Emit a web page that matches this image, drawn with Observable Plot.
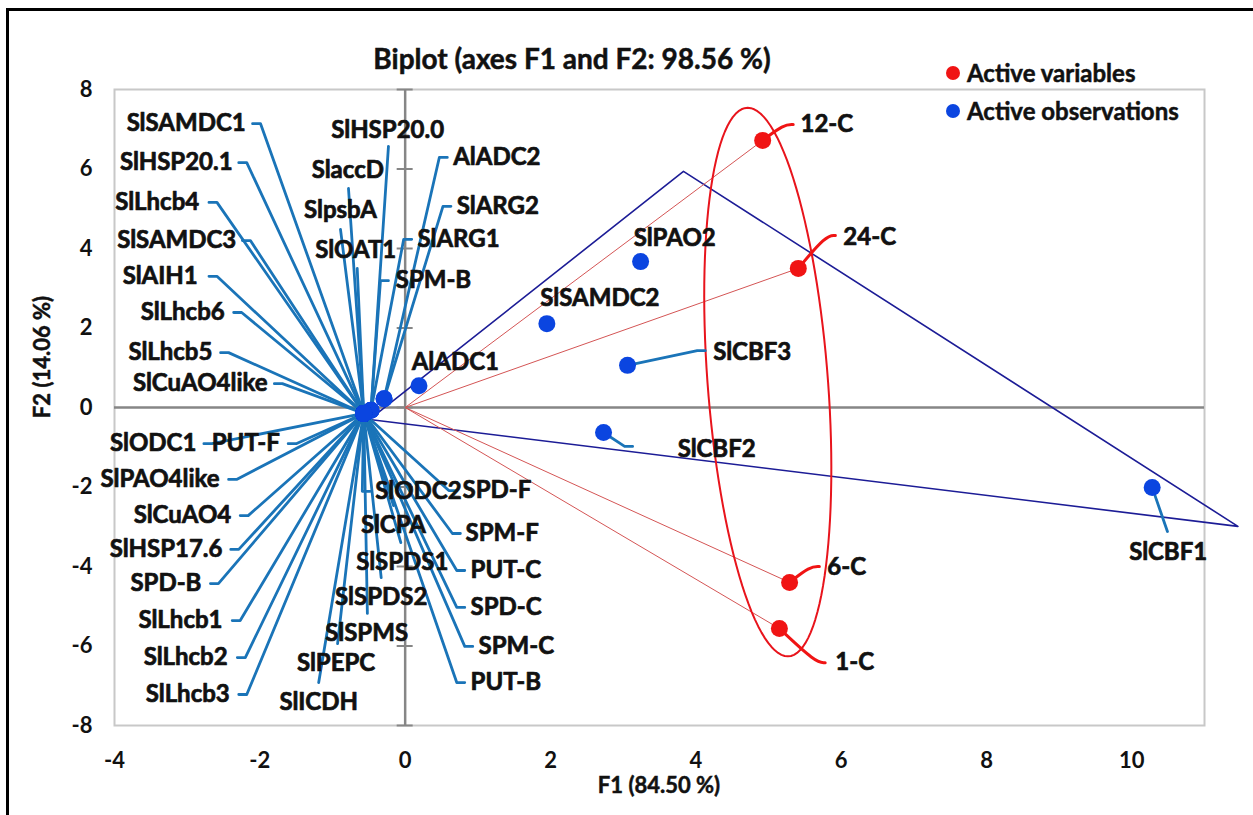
<!DOCTYPE html>
<html><head><meta charset="utf-8">
<script src="https://cdn.jsdelivr.net/npm/d3@7"></script>
<script src="https://cdn.jsdelivr.net/npm/@observablehq/plot@0.6"></script>
<style>
body{margin:0;background:#fff;font-family:Lato,"Open Sans",sans-serif;}
#wrap{position:relative;width:1253px;height:815px;overflow:hidden;background:#fff;}
.abs{position:absolute;white-space:nowrap;font-weight:700;color:#111;line-height:1;-webkit-text-stroke:0.5px #111;}
.ldot{position:absolute;width:14px;height:14px;border-radius:50%;transform:translate(-50%,-50%);}
</style></head><body>
<div id="wrap">
 <div style="position:absolute;left:6px;top:8px;width:1400px;height:1000px;border-left:3px solid #000;border-top:3px solid #000;"></div>
 <div id="chart" style="position:absolute;left:0;top:0;"></div>
 <div class="abs" style="left:572px;top:58px;transform:translate(-50%,-50%);font-size:28px;">Biplot (axes F1 and F2: 98.56 %)</div>
 <div class="ldot" style="left:953px;top:73px;background:#f01414;"></div>
 <div class="abs" style="left:967px;top:73px;transform:translateY(-50%);font-size:24px;">Active variables</div>
 <div class="ldot" style="left:953px;top:111px;background:#0b45e0;"></div>
 <div class="abs" style="left:967px;top:111px;transform:translateY(-50%);font-size:24px;">Active observations</div>
 <div class="abs" style="left:659px;top:785px;transform:translate(-50%,-50%);font-size:22px;">F1 (84.50 %)</div>
 <div class="abs" style="left:42px;top:357px;transform:translate(-50%,-50%) rotate(-90deg);font-size:22px;">F2 (14.06 %)</div>
</div>
<script>
// ---- Axis ticks ----
const xTicks = [-4, -2, 0, 2, 4, 6, 8, 10];
const yTicks = [-8, -6, -4, -2, 0, 2, 4, 6, 8];

// ---- Active observations (F1, F2) ----
const obsNames = ["SlSAMDC1","SlHSP20.1","SlLhcb4","SlSAMDC3","SlAIH1","SlLhcb6","SlLhcb5","SlCuAO4like",
  "SlODC1","PUT-F","SlPAO4like","SlCuAO4","SlHSP17.6","SPD-B","SlLhcb1","SlLhcb2","SlLhcb3",
  "SlHSP20.0","SlaccD","SlpsbA","SlOAT1",
  "SlICDH","SlPEPC","SlSPMS","SlSPDS2","SlSPDS1","SlCPA",
  "AlADC2","SlARG2","SlARG1","SPM-B","SlODC2","SPD-F","SPM-F","PUT-C","SPD-C","SPM-C","PUT-B",
  "SlCBF3","SlCBF2","SlCBF1","AlADC1","SlSAMDC2","SlPAO2"];
const obsX = [-0.57,-0.57,-0.57,-0.57,-0.57,-0.57,-0.57,-0.57,
  -0.57,-0.57,-0.57,-0.57,-0.57,-0.57,-0.57,-0.57,-0.57,
  -0.47,-0.57,-0.57,-0.57,
  -0.57,-0.57,-0.57,-0.57,-0.57,-0.57,
  -0.29,-0.29,-0.47,-0.47,-0.57,-0.57,-0.57,-0.57,-0.57,-0.57,-0.57,
  3.06,2.73,10.28,0.19,1.95,3.24];
const obsY = [-0.15,-0.15,-0.15,-0.15,-0.15,-0.15,-0.15,-0.15,
  -0.15,-0.15,-0.15,-0.15,-0.15,-0.15,-0.15,-0.15,-0.15,
  -0.07,-0.15,-0.15,-0.15,
  -0.15,-0.15,-0.15,-0.15,-0.15,-0.15,
  0.22,0.22,-0.07,-0.07,-0.15,-0.15,-0.15,-0.15,-0.15,-0.15,-0.15,
  1.06,-0.63,-2.01,0.55,2.11,3.67];
// where each label's leader line starts (null = no leader)
const leadX = [-2.10,-2.29,-2.70,-2.24,-2.70,-2.36,-2.54,-1.80,
  -2.77,-1.61,-2.43,-2.27,-2.40,-2.68,-2.38,-2.31,-2.29,
  -0.23,-0.78,-0.89,-0.66,
  -1.19,-0.93,-0.52,-0.33,-0.06,-0.16,
  0.58,0.63,0.09,-0.23,-0.48,0.71,0.76,0.82,0.82,0.93,0.82,
  4.13,3.13,10.49,null,null,null];
const leadY = [7.14,6.16,5.16,4.20,3.30,2.39,1.38,0.60,
  -0.91,-0.91,-1.81,-2.72,-3.57,-4.43,-5.36,-6.29,-7.22,
  6.57,5.51,4.48,3.50,
  -6.92,-5.94,-5.18,-4.28,-3.40,-2.47,
  6.29,5.06,4.23,3.19,-2.11,-2.09,-3.17,-4.10,-5.03,-6.01,-6.92,
  1.43,-0.98,-3.12,null,null,null];
// label text positions and anchors
const labX = [-2.18,-2.36,-2.82,-2.31,-2.84,-2.47,-2.64,-1.88,
  -2.86,-1.71,-2.54,-2.38,-2.50,-2.79,-2.50,-2.43,-2.40,
  -0.24,-0.79,-0.89,-0.68,
  -1.19,-0.95,-0.53,-0.33,-0.04,-0.16,
  0.66,0.71,0.17,-0.13,-0.41,0.79,0.83,0.90,0.90,1.01,0.90,
  4.24,3.75,10.50,0.69,2.68,3.71];
const labY = [7.14,6.16,5.16,4.20,3.30,2.39,1.38,0.60,
  -0.91,-0.91,-1.81,-2.72,-3.57,-4.43,-5.36,-6.29,-7.22,
  6.97,5.96,4.96,3.95,
  -7.42,-6.44,-5.69,-4.78,-3.90,-2.97,
  6.29,5.06,4.23,3.19,-2.11,-2.09,-3.17,-4.10,-5.03,-6.01,-6.92,
  1.38,-1.06,-3.65,1.13,2.74,4.25];
const labAnchor = ["end","end","end","end","end","end","end","end",
  "end","end","end","end","end","end","end","end","end",
  "middle","middle","middle","middle",
  "middle","middle","middle","middle","middle","middle",
  "start","start","start","start","start","start","start","start","start","start","start",
  "start","start","middle","middle","middle","middle"];

// ---- Active variables ----
const varNames = ["12-C","24-C","6-C","1-C"];
const varX = [4.92, 5.41, 5.29, 5.15];
const varY = [6.72, 3.50, -4.40, -5.56];
const varLeadX = [5.34, 5.92, 5.70, 5.78];
const varLeadY = [7.12, 4.33, -4.00, -6.42];
const varLabX = [5.44, 6.03, 5.81, 5.92];
const varLabY = [7.12, 4.28, -4.03, -6.42];

// ---- Annotation shapes ----
const triX = [-0.49, 3.83, 11.46, -0.49];
const triY = [-0.30, 5.94, -2.99, -0.30];
const ellCx = 4.99, ellCy = 0.64, ellRx = 0.83, ellRy = 6.9, ellShear = -0.04;

// ---- build tables ----
const HOOK = 0.11;
const obs = obsNames.map((name, i) => ({name, x: obsX[i], y: obsY[i], lx: leadX[i], ly: leadY[i], tx: labX[i], ty: labY[i], anchor: labAnchor[i]}));
const obsLeaders = [];
obs.forEach((d, i) => {
  if (d.lx == null) return;
  const pts = [[d.lx, d.ly]];
  if (d.anchor === "end") pts.push([d.lx + HOOK, d.ly]);
  else if (d.anchor === "start") pts.push([d.lx - HOOK, d.ly]);
  pts.push([d.x, d.y]);
  pts.forEach(p => obsLeaders.push({id: i, x: p[0], y: p[1]}));
});
const vars = varNames.map((name, i) => ({name, x: varX[i], y: varY[i], lx: varLeadX[i], ly: varLeadY[i], tx: varLabX[i], ty: varLabY[i]}));
const varLeaders = [];
vars.forEach((d, i) => {
  [[d.lx, d.ly], [d.lx - 0.13, d.ly], [d.x, d.y]].forEach(p => varLeaders.push({id: i, x: p[0], y: p[1]}));
});
const tri = triX.map((x, i) => ({x, y: triY[i]}));
const ell = d3.range(0, 361, 3).map(a => {
  const t = a * Math.PI / 180;
  const dy = ellRy * Math.sin(t);
  return {x: ellCx + ellRx * Math.cos(t) + ellShear * dy, y: ellCy + dy};
});

const BLUE_LINE = "#1a74b8", BLUE_DOT = "#0b45e0", RED = "#f01414";
const txt = {fontSize: 24, fontWeight: "bold", fill: "#111", stroke: "#111", strokeWidth: 0.7};

const chart = Plot.plot({
  width: 1253, height: 815,
  marginLeft: 114, marginRight: 49, marginTop: 89, marginBottom: 90,
  style: {fontFamily: "Lato, 'Open Sans', sans-serif", fontSize: "22px", fontWeight: "bold", color: "#111", background: "transparent", overflow: "visible"},
  x: {domain: [-4, 11], ticks: xTicks, tickSize: 0, tickPadding: 27, label: null, tickFormat: d => String(d)},
  y: {domain: [-8, 8], ticks: yTicks, tickSize: 0, tickPadding: 22, label: null, tickFormat: d => String(d)},
  marks: [
    Plot.frame({stroke: "#c8c8c8", strokeWidth: 2}),
    Plot.ruleY([0], {stroke: "#868686", strokeWidth: 2.5}),
    Plot.ruleX([0], {stroke: "#868686", strokeWidth: 2.5}),
    Plot.ruleY(yTicks, {x1: -0.11, x2: 0.11, stroke: "#868686", strokeWidth: 2}),
    Plot.line(tri, {x: "x", y: "y", stroke: "#1c1c96", strokeWidth: 1.6}),
    Plot.link(vars, {x1: 0, y1: 0, x2: "x", y2: "y", stroke: "#d45555", strokeWidth: 1}),
    Plot.line(ell, {x: "x", y: "y", stroke: "#e8141c", strokeWidth: 2, curve: "linear"}),
    Plot.line(obsLeaders, {x: "x", y: "y", z: "id", stroke: BLUE_LINE, strokeWidth: 2.8}),
    Plot.dot(obs, {x: "x", y: "y", r: 8.5, fill: BLUE_DOT}),
    Plot.line(varLeaders, {x: "x", y: "y", z: "id", stroke: RED, strokeWidth: 3, curve: "basis"}),
    Plot.dot(vars, {x: "x", y: "y", r: 8.5, fill: RED}),
    Plot.text(obs.filter(d => d.anchor === "end"), {x: "tx", y: "ty", text: "name", textAnchor: "end", dx: -1, ...txt}),
    Plot.text(obs.filter(d => d.anchor === "start"), {x: "tx", y: "ty", text: "name", textAnchor: "start", ...txt}),
    Plot.text(obs.filter(d => d.anchor === "middle"), {x: "tx", y: "ty", text: "name", textAnchor: "middle", ...txt}),
    Plot.text(vars, {x: "tx", y: "ty", text: "name", textAnchor: "start", ...txt})
  ]
});
document.getElementById("chart").appendChild(chart);
</script>
</body></html>
